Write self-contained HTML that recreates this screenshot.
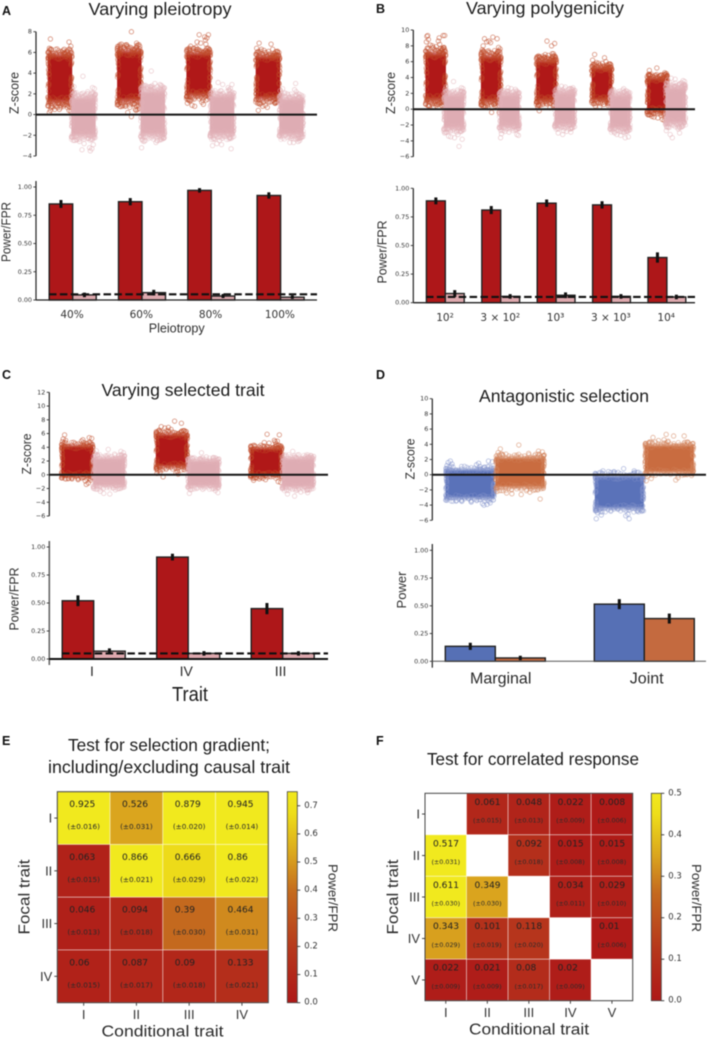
<!DOCTYPE html>
<html lang="en">
<head>
<meta charset="utf-8">
<title>Selection test power figure</title>
<style>
html,body{margin:0;padding:0;background:#fff;width:707px;height:1039px;overflow:hidden}
svg{display:block;filter:blur(0.4px)}
text{fill:#222}
.title{font-family:"Liberation Sans",sans-serif;font-size:17.5px;fill:#1c1c1c}
.letter{font-family:"Liberation Sans",sans-serif;font-size:12.5px;font-weight:bold;fill:#111}
.axis-title{font-family:"Liberation Sans",sans-serif;font-size:13px;fill:#2e2e2e}
.big-title{font-family:"Liberation Sans",sans-serif;font-size:15.5px;fill:#2a2a2a}
.tick{font-family:"DejaVu Sans",sans-serif;font-size:6.4px;fill:#333}
.cat{font-family:"DejaVu Sans",sans-serif;font-size:10.5px;fill:#333}
.cat-roman{font-family:"Liberation Sans",sans-serif;font-size:14px;fill:#2a2a2a}
.cat-large{font-family:"Liberation Sans",sans-serif;font-size:16px;fill:#2a2a2a}
.hm-tick{font-family:"Liberation Sans",sans-serif;font-size:13px;fill:#333}
.cb-tick{font-family:"DejaVu Sans",sans-serif;font-size:8.5px;fill:#333}
</style>
</head>
<body>
<svg id="figure" xmlns="http://www.w3.org/2000/svg" width="707" height="1039" viewBox="0 0 707 1039">
  <defs id="defs"></defs>
  <text class="letter" x="2" y="15">A</text>
  <text class="letter" x="376" y="13">B</text>
  <text class="letter" x="2" y="379">C</text>
  <text class="letter" x="376" y="379">D</text>
  <text class="letter" x="2" y="745">E</text>
  <text class="letter" x="376" y="745">F</text>

  <text class="title" x="160" y="15" text-anchor="middle" textLength="143" lengthAdjust="spacingAndGlyphs">Varying pleiotropy</text>
  <text class="title" x="545" y="14" text-anchor="middle" textLength="158" lengthAdjust="spacingAndGlyphs">Varying polygenicity</text>
  <text class="title" x="183" y="396" text-anchor="middle" textLength="163" lengthAdjust="spacingAndGlyphs">Varying selected trait</text>
  <text class="title" x="564" y="402" text-anchor="middle" textLength="170" lengthAdjust="spacingAndGlyphs">Antagonistic selection</text>
  <text class="title" x="169" y="751" text-anchor="middle" textLength="202" lengthAdjust="spacingAndGlyphs">Test for selection gradient;</text>
  <text class="title" x="169" y="773" text-anchor="middle" textLength="242" lengthAdjust="spacingAndGlyphs">including/excluding causal trait</text>
  <text class="title" x="533" y="765" text-anchor="middle" textLength="212" lengthAdjust="spacingAndGlyphs">Test for correlated response</text>

  <g id="panel-a"></g>
  <g id="panel-b"></g>
  <g id="panel-c"></g>
  <g id="panel-d"></g>
  <g id="panel-e"></g>
  <g id="panel-f"></g>

  <text class="axis-title" transform="translate(14 93) rotate(-90)" text-anchor="middle" dominant-baseline="central" textLength="42" lengthAdjust="spacingAndGlyphs">Z-score</text>
  <text class="axis-title" transform="translate(6 232) rotate(-90)" text-anchor="middle" dominant-baseline="central" textLength="60" lengthAdjust="spacingAndGlyphs">Power/FPR</text>
  <text class="axis-title" x="176.7" y="328" text-anchor="middle" dominant-baseline="central" textLength="56" lengthAdjust="spacingAndGlyphs">Pleiotropy</text>
  <text class="axis-title" transform="translate(390.7 93) rotate(-90)" text-anchor="middle" dominant-baseline="central" textLength="42" lengthAdjust="spacingAndGlyphs">Z-score</text>
  <text class="axis-title" transform="translate(382 252) rotate(-90)" text-anchor="middle" dominant-baseline="central" textLength="63" lengthAdjust="spacingAndGlyphs">Power/FPR</text>
  <text class="axis-title" transform="translate(26.7 454) rotate(-90)" text-anchor="middle" dominant-baseline="central" textLength="41" lengthAdjust="spacingAndGlyphs">Z-score</text>
  <text class="axis-title" transform="translate(14 599) rotate(-90)" text-anchor="middle" dominant-baseline="central" textLength="63" lengthAdjust="spacingAndGlyphs">Power/FPR</text>
  <text class="title" x="190" y="701" text-anchor="middle" textLength="36" lengthAdjust="spacingAndGlyphs" style="font-size:20px">Trait</text>
  <text class="axis-title" transform="translate(410 459) rotate(-90)" text-anchor="middle" dominant-baseline="central" textLength="41" lengthAdjust="spacingAndGlyphs">Z-score</text>
  <text class="axis-title" transform="translate(401.7 590) rotate(-90)" text-anchor="middle" dominant-baseline="central" textLength="37" lengthAdjust="spacingAndGlyphs">Power</text>

  <text class="big-title" x="162.5" y="1032" text-anchor="middle" dominant-baseline="central" textLength="122" lengthAdjust="spacingAndGlyphs">Conditional trait</text>
  <text class="big-title" transform="translate(25 897) rotate(-90)" text-anchor="middle" dominant-baseline="central" textLength="75" lengthAdjust="spacingAndGlyphs">Focal trait</text>
  <text class="axis-title" transform="translate(333 898) rotate(90)" text-anchor="middle" dominant-baseline="central" textLength="68" lengthAdjust="spacingAndGlyphs">Power/FPR</text>
  <text class="big-title" x="529" y="1030" text-anchor="middle" dominant-baseline="central" textLength="120" lengthAdjust="spacingAndGlyphs">Conditional trait</text>
  <text class="big-title" transform="translate(393.3 897) rotate(-90)" text-anchor="middle" dominant-baseline="central" textLength="75" lengthAdjust="spacingAndGlyphs">Focal trait</text>
  <text class="axis-title" transform="translate(696.7 898) rotate(90)" text-anchor="middle" dominant-baseline="central" textLength="68" lengthAdjust="spacingAndGlyphs">Power/FPR</text>
</svg>
<script>
/* ---------- Shared tick labels ---------- */
const powerTicks = [0, 0.25, 0.5, 0.75, 1];
const zTicksA = [-4, -2, 0, 2, 4, 6, 8];
const zTicksB = [-6, -4, -2, 0, 2, 4, 6, 8, 10];
const zTicksC = [-6, -4, -2, 0, 2, 4, 6, 8, 10, 12];
const zTicksD = [-6, -4, -2, 0, 2, 4, 6, 8, 10];
const fprThreshold = 0.05;
const jitterOffsets = [-0.82, 0.41, -0.13, 0.77, -0.56, 0.18, 0.93, -0.34, 0.62, -0.91, 0.05, -0.68, 0.36, 0.84, -0.22, -0.75, 0.52, -0.45, 0.27, 0.71, -0.05, -0.96, 0.58];
const depthOffsets = [0.12, 0.67, 0.34, 0.91, 0.05, 0.48, 0.79, 0.23, 0.58, 0.96, 0.17, 0.41, 0.73, 0.29, 0.86, 0.02, 0.53, 0.38, 0.64];

/* ---------- Panel A ---------- */
const categoriesA = ['40%', '60%', '80%', '100%'];
const powerA = [0.85, 0.87, 0.97, 0.925];
const powerErrA = [0.035, 0.032, 0.02, 0.028];
const fprA = [0.045, 0.065, 0.035, 0.025];
const fprErrA = [0.02, 0.025, 0.018, 0.015];
const selLowA = [0.8, 0.9, 1.5, 1.2];
const selHighA = [6.2, 6.6, 6.3, 6.0];
const neuLowA = [-2.4, -2.4, -2.3, -2.3];
const neuHighA = [2.0, 2.7, 2.2, 1.9];
const selExtremesA = [
  [7.3, 7.0, 6.6, 6.4, 6.3, 6.3, 6.2, 6.1, 6.0, 5.9, 5.8, 5.8, 5.6, 5.6, 5.5, 1.2, 1.1, 1.0, 0.9, 0.8, 0.7, 0.5, 0.5, 0.4, 0.4, 0.3, 0.2],
  [8.0, 6.9, 6.8, 6.7, 6.5, 6.4, 6.3, 6.2, 6.1, 6.0, 5.9, 5.8, 5.7, 5.6, 1.0, 0.9, 0.8, 0.7, 0.6, 0.5, 0.5, 0.4, 0.2, -0.2],
  [7.7, 7.7, 7.5, 7.4, 7.2, 7.0, 6.9, 6.8, 6.6, 6.5, 6.4, 6.3, 6.2, 6.1, 1.7, 1.5, 1.4, 1.3, 1.2, 1.1, 1.0, 0.9, 0.8],
  [6.9, 6.8, 6.4, 6.3, 6.3, 6.2, 6.1, 6.0, 5.9, 5.8, 5.7, 5.6, 1.2, 1.1, 1.0, 0.9, 0.8, 0.7, 0.4]
];
const neuExtremesA = [
  [3.7, 2.7, 2.6, 2.5, 2.3, 2.2, 2.1, 2.0, -2.2, -2.3, -2.4, -2.6, -2.8, -2.9, -3.2, -3.3, -3.5, -3.4],
  [4.2, 3.0, 2.9, 2.8, 2.7, 2.7, 2.6, 2.5, -2.2, -2.3, -2.4, -2.5, -2.6, -2.7, -3.2],
  [3.1, 2.9, 2.9, 2.6, 2.5, 2.4, 2.3, -2.1, -2.2, -2.3, -2.5, -2.8, -2.9, -3.0, -3.3],
  [3.0, 2.5, 2.4, 2.3, 2.2, 2.1, 2.0, -2.1, -2.2, -2.3, -2.5, -2.6, -2.7, -2.7]
];

/* ---------- Panel B ---------- */
const categoriesB = ['10²', '3 × 10²', '10³', '3 × 10³', '10⁴'];
const powerB = [0.89, 0.81, 0.87, 0.855, 0.395];
const powerErrB = [0.03, 0.035, 0.032, 0.032, 0.045];
const fprB = [0.08, 0.055, 0.065, 0.055, 0.05];
const fprErrB = [0.03, 0.02, 0.025, 0.02, 0.02];
const selLowB = [0.6, 0.5, 0.6, 0.8, -0.6];
const selHighB = [7.6, 7.2, 6.6, 5.6, 4.3];
const neuLowB = [-2.8, -2.6, -2.4, -2.8, -2.2];
const neuHighB = [2.2, 2.2, 2.5, 2.2, 3.2];
const selExtremesB = [
  [9.3, 9.3, 9.3, 9.2, 9.0, 8.8, 8.6, 8.5, 8.2, 8.1, 8.0, 7.9, 7.8, 7.7, 7.6, 0.8, 0.7, 0.6, 0.5, 0.4, 0.3],
  [9.1, 8.9, 8.9, 8.6, 8.5, 8.4, 8.0, 7.8, 7.6, 7.5, 7.4, 7.3, 0.6, 0.5, 0.4, 0.3, 0.2, -0.4, -0.4],
  [8.6, 8.3, 8.0, 7.0, 7.0, 6.9, 6.8, 6.7, 6.6, 6.5, 6.4, 0.7, 0.6, 0.5, 0.4, 0.3, 0.2, -0.2],
  [6.9, 6.5, 6.2, 6.0, 5.9, 5.8, 5.8, 5.7, 5.6, 0.9, 0.8, 0.7, 0.6, 0.5, 0.4, 0.3],
  [5.2, 4.9, 4.6, 4.5, 4.4, 4.3, 4.3, 4.2, -0.7, -0.8, -0.9, -1.0, -1.1, -1.2, -1.3, -1.4]
];
const neuExtremesB = [
  [3.5, 2.8, 2.7, 2.6, 2.5, 2.4, 2.3, -2.9, -3.0, -3.2, -3.4, -3.5, -3.6, -3.8, -4.7],
  [2.7, 2.6, 2.5, 2.4, 2.3, -2.8, -2.9, -3.1, -3.2, -3.3, -3.6],
  [2.9, 2.8, 2.7, 2.6, 2.5, -2.5, -2.7, -2.8, -2.9, -3.0, -3.2],
  [2.6, 2.5, 2.4, 2.3, -2.9, -3.0, -3.2, -3.3, -3.5, -3.6],
  [3.9, 3.8, 3.7, 3.6, 3.5, 3.3, -2.2, -2.3, -2.5, -2.7, -3.0, -3.2, -3.6]
];

/* ---------- Panel C ---------- */
const categoriesC = ['I', 'IV', 'III'];
const powerC = [0.52, 0.91, 0.45];
const powerErrC = [0.048, 0.03, 0.05];
const fprC = [0.07, 0.05, 0.05];
const fprErrC = [0.025, 0.02, 0.02];
const selLowC = [-0.5, 0.8, -0.4];
const selHighC = [4.6, 6.3, 4.2];
const neuLowC = [-2.0, -2.0, -2.2];
const neuHighC = [2.8, 2.4, 2.8];
const selExtremesC = [
  [5.8, 5.4, 5.3, 5.2, 5.1, 5.0, 4.9, 4.8, 4.7, -0.5, -0.6, -0.7, -0.8, -0.9, -1.2, -1.4],
  [7.8, 7.5, 7.0, 6.9, 6.8, 6.6, 6.5, 6.4, 6.3, 0.6, 0.5, 0.4, 0.3, 0.2, 0.1, -0.3],
  [5.9, 5.8, 5.0, 4.9, 4.8, 4.7, 4.6, 4.5, -0.4, -0.5, -0.6, -0.7, -0.8, -1.0, -1.1]
];
const neuExtremesC = [
  [3.7, 3.5, 3.4, 3.2, 3.1, 3.0, 2.9, -1.9, -2.0, -2.2, -2.4, -2.7, -2.8],
  [3.2, 2.6, 2.5, 2.4, 2.3, -2.0, -2.1, -2.2, -2.3, -2.6, -2.7],
  [3.4, 2.9, 2.8, 2.7, 2.6, -2.2, -2.3, -2.5, -2.6, -2.8, -3.1]
];

/* ---------- Panel D ---------- */
const categoriesD = ['Marginal', 'Joint'];
const powerBlueD = [0.135, 0.515];
const powerBlueErrD = [0.032, 0.045];
const powerOrangeD = [0.03, 0.385];
const powerOrangeErrD = [0.02, 0.045];
const blueLowD = [-3.4, -4.8];
const blueHighD = [1.0, 0.2];
const orangeLowD = [-2.0, 0.0];
const orangeHighD = [2.6, 4.2];
const blueExtremesD = [
  [1.8, 1.8, 1.7, 1.6, 1.5, 1.4, 1.3, 1.2, 1.1, -3.4, -3.5, -3.6, -3.7, -3.8, -3.9, -4.0],
  [0.8, 0.5, 0.5, 0.4, 0.4, 0.3, -4.6, -4.7, -4.8, -5.0, -5.2, -5.3, -5.4, -5.8, -5.8]
];
const orangeExtremesD = [
  [3.9, 3.4, 3.1, 3.0, 2.9, 2.8, 2.7, -2.1, -2.2, -2.3, -2.4, -2.5, -2.6, -3.2],
  [5.3, 5.1, 5.1, 4.9, 4.6, 4.5, 4.4, 4.3, 4.3, -0.1, -0.2, -0.4, -0.5, -0.7, -0.8]
];

/* ---------- Panels E and F ---------- */
const traitsE = ['I', 'II', 'III', 'IV'];
const valuesE = [
  [0.925, 0.526, 0.879, 0.945],
  [0.063, 0.866, 0.666, 0.86],
  [0.046, 0.094, 0.39, 0.464],
  [0.06, 0.087, 0.09, 0.133]
];
const errorsE = [
  ['0.016', '0.031', '0.020', '0.014'],
  ['0.015', '0.021', '0.029', '0.022'],
  ['0.013', '0.018', '0.030', '0.031'],
  ['0.015', '0.017', '0.018', '0.021']
];
const colorbarTicksE = [0, 0.1, 0.2, 0.3, 0.4, 0.5, 0.6, 0.7];
const traitsF = ['I', 'II', 'III', 'IV', 'V'];
const valuesF = [
  [null, 0.061, 0.048, 0.022, 0.008],
  [0.517, null, 0.092, 0.015, 0.015],
  [0.611, 0.349, null, 0.034, 0.029],
  [0.343, 0.101, 0.118, null, 0.01],
  [0.022, 0.021, 0.08, 0.02, null]
];
const errorsF = [
  [null, '0.015', '0.013', '0.009', '0.006'],
  ['0.031', null, '0.018', '0.008', '0.008'],
  ['0.030', '0.030', null, '0.011', '0.010'],
  ['0.029', '0.019', '0.020', null, '0.006'],
  ['0.009', '0.009', '0.017', '0.009', null]
];
const colorbarTicksF = [0, 0.1, 0.2, 0.3, 0.4, 0.5];

/* ---------- Helpers ---------- */
const NS = 'http://www.w3.org/2000/svg';
function mk(tag, attrs, parent, text) {
  const el = document.createElementNS(NS, tag);
  for (const k in attrs) el.setAttribute(k, attrs[k]);
  if (text !== undefined) el.textContent = text;
  parent.appendChild(el);
  return el;
}
function linear(d0, d1, r0, r1) {
  return function (v) { return r0 + (v - d0) / (d1 - d0) * (r1 - r0); };
}
const defs = document.getElementById('defs');
function fadeGradient(id, color) {
  const g = mk('linearGradient', { id: id, x1: 0, y1: 0, x2: 0, y2: 1 }, defs);
  [[0, 0.05], [0.05, 0.35], [0.13, 1], [0.87, 1], [0.95, 0.35], [1, 0.05]].forEach(function (s) {
    mk('stop', { offset: s[0], 'stop-color': color, 'stop-opacity': s[1] }, g);
  });
}
fadeGradient('fade-red', '#b01818');
fadeGradient('fade-pink', '#deacb3');
fadeGradient('fade-blue', '#5a72b9');
fadeGradient('fade-orange', '#c96c40');

const cmapStops = [[0, [174, 24, 24]], [0.25, [182, 55, 28]], [0.52, [196, 105, 30]], [0.7, [218, 165, 30]], [0.9, [238, 222, 25]], [1, [241, 233, 30]]];
function cmap(t) {
  t = Math.max(0, Math.min(1, t));
  for (let i = 1; i < cmapStops.length; i++) {
    if (t <= cmapStops[i][0]) {
      const a = cmapStops[i - 1], b = cmapStops[i];
      const f = (t - a[0]) / (b[0] - a[0]);
      const c = a[1].map(function (v, j) { return Math.round(v + (b[1][j] - v) * f); });
      return 'rgb(' + c.join(',') + ')';
    }
  }
  return 'rgb(241,233,30)';
}
const cbGrad = mk('linearGradient', { id: 'colorbar-gradient', x1: 0, y1: 1, x2: 0, y2: 0 }, defs);
cmapStops.forEach(function (s) {
  mk('stop', { offset: s[0], 'stop-color': 'rgb(' + s[1].join(',') + ')' }, cbGrad);
});

function formatZ(t) { return t < 0 ? '\u2212' + Math.abs(t) : String(t); }

function drawYAxis(g, scale, ticks, fmt, xAxis, top, bottom, spineColor, spineWidth, prefix) {
  const spine = mk('line', { x1: xAxis, x2: xAxis, y1: top, y2: bottom, stroke: spineColor, 'stroke-width': spineWidth }, g);
  
  
  ticks.forEach(function (t) {
    const y = scale(t);
    const mark = mk('line', { x1: xAxis - 2.6, x2: xAxis, y1: y, y2: y, stroke: '#333', 'stroke-width': 0.9 }, g);
    
    
    const lab = mk('text', { x: xAxis - 4, y: y, 'text-anchor': 'end', 'dominant-baseline': 'central', class: 'tick' }, g, fmt(t));
    
    
  });
}

/* Cloud = a fading density band between low and high, a ring texture along its
   edges (positions follow low/high), and the individually read extreme points. */
function drawCloud(g, cx, halfWidth, zScale, low, high, extremes, fill, ring, seed, name, ringOpacity) {
  const top = zScale(high), bot = zScale(low), span = high - low;
  const band = mk('rect', { x: cx - halfWidth + 1.5, y: top, width: halfWidth * 2 - 3, height: bot - top, fill: 'url(#' + fill + ')' }, g);
  
  
  const nj = jitterOffsets.length, nd = depthOffsets.length;
  for (let i = 0; i < 150; i++) {
    const j = jitterOffsets[(i + seed * 5) % nj];
    const d = depthOffsets[(i + seed) % nd];
    let px, pz;
    if (i % 3 === 0) {
      pz = high + span * (0.03 - 0.2 * d);
      px = cx + j * (halfWidth - 1);
    } else if (i % 3 === 1) {
      pz = low + span * (0.2 * d - 0.03);
      px = cx + j * (halfWidth - 1);
    } else {
      pz = low + span * ((d + i / 149) % 1);
      px = cx + (i % 2 === 0 ? -1 : 1) * (halfWidth - 1.6 - 1.4 * Math.abs(j));
    }
    const tex = mk('circle', { cx: px, cy: zScale(pz), r: 2.1, fill: 'none', stroke: ring, 'stroke-width': 0.8, 'stroke-opacity': ringOpacity }, g);
    
    
  }
  extremes.forEach(function (z, i) {
    const j = jitterOffsets[(i * 3 + seed * 5) % nj];
    const pt = mk('circle', { cx: cx + j * (halfWidth - 2), cy: zScale(z), r: 2.2, fill: 'none', stroke: ring, 'stroke-width': 0.9, 'stroke-opacity': 0.55 }, g);
    
    
  });
}

function drawScatter(g, c) {
  const z = linear(c.zMin, c.zMax, c.zBottom, c.zTop);
  c.first.low.forEach(function (_, i) {
    drawCloud(g, c.firstX + i * c.step, c.halfWidth, z, c.first.low[i], c.first.high[i], c.first.extremes[i], c.first.fill, c.first.ring, i, c.prefix + '-' + c.first.name, c.first.ringOpacity);
  });
  c.second.low.forEach(function (_, i) {
    drawCloud(g, c.secondX + i * c.step, c.halfWidth, z, c.second.low[i], c.second.high[i], c.second.extremes[i], c.second.fill, c.second.ring, i + 4, c.prefix + '-' + c.second.name, c.second.ringOpacity);
  });
  drawYAxis(g, z, c.ticks, formatZ, c.axisX, c.zTop, c.zBottom, c.spineColor || '#222', c.spineWidth || 1.2, c.prefix + '-zscore');
  const zero = mk('line', { x1: c.axisX, x2: c.rightX, y1: z(0), y2: z(0), stroke: '#151515', 'stroke-width': 2 }, g);
  
  
}

function drawBars(g, c) {
  const y = linear(0, 1, c.y0, c.y1);
  c.series.forEach(function (s, si) {
    s.values.forEach(function (v, i) {
      const cx = c.center + i * c.step;
      const x = si === 0 ? cx - c.barW : cx;
      const bar = mk('rect', { x: x, y: y(v), width: c.barW, height: c.y0 - y(v), fill: s.color, stroke: '#222', 'stroke-width': 1.4 }, g);
      
      
    });
  });
  c.series.forEach(function (s, si) {
    s.values.forEach(function (v, i) {
      const cx = c.center + i * c.step;
      const x = si === 0 ? cx - c.barW : cx;
      const err = mk('line', { x1: x + c.barW / 2, x2: x + c.barW / 2, y1: y(v - s.errors[i]), y2: y(v + s.errors[i]), stroke: '#111', 'stroke-width': 3 }, g);
      
      
    });
  });
  drawYAxis(g, y, powerTicks, function (t) { return t.toFixed(2); }, c.axisX, c.top, c.bottom, c.spineColor || '#222', c.spineWidth || 1.2, c.prefix + '-power');
  const base = mk('line', { x1: c.axisX, x2: c.rightX, y1: c.y0, y2: c.y0, stroke: c.baseColor || '#222', 'stroke-width': c.baseWidth || 1.3 }, g);
  
  
  if (c.threshold) {
    const dash = mk('line', { x1: c.dashStart, x2: c.rightX, y1: y(fprThreshold), y2: y(fprThreshold), stroke: '#111', 'stroke-width': 2.1, 'stroke-dasharray': '7.5 3.4' }, g);
    
    
  }
  c.categories.forEach(function (label, i) {
    const t = mk('text', { x: c.labelX + i * c.labelStep, y: c.labelY, 'text-anchor': 'middle', 'dominant-baseline': 'central', class: c.labelClass }, g, label);
    
    
  });
}

function drawHeatmap(g, c) {
  const n = c.traits.length;
  const cellW = (c.x1 - c.x0) / n, cellH = (c.y1 - c.y0) / n;
  c.values.forEach(function (row, r) {
    row.forEach(function (v, col) {
      const x = c.x0 + col * cellW, y = c.y0 + r * cellH;
      const cell = mk('rect', { x: x, y: y, width: cellW, height: cellH, fill: v === null ? '#ffffff' : cmap(v / c.vmax), stroke: 'rgba(255,255,255,0.6)', 'stroke-width': 0.7 }, g);
      
      
      if (v === null) return;
      const vt = mk('text', { x: x + c.textDx, y: y + c.valueDy, 'dominant-baseline': 'central', style: 'font-family:"DejaVu Sans",sans-serif;font-size:9.1px;fill:#222' }, g, String(v));
      
      
      const et = mk('text', { x: x + cellW / 2, y: y + c.errDy, 'text-anchor': 'middle', 'dominant-baseline': 'central', style: 'font-family:"DejaVu Sans",sans-serif;font-size:' + c.errSize + 'px;fill:#2a2a2a' }, g, '(\u00b1' + c.errors[r][col] + ')');
      
      
    });
  });
  const frame = mk('rect', { x: c.x0, y: c.y0, width: c.x1 - c.x0, height: c.y1 - c.y0, fill: 'none', stroke: '#444', 'stroke-width': 1 }, g);
  
  
  c.traits.forEach(function (label, i) {
    const cx = c.x0 + (i + 0.5) * cellW, cy = c.y0 + (i + 0.5) * cellH;
    const xm = mk('line', { x1: cx, x2: cx, y1: c.y1, y2: c.y1 + 3, stroke: '#333', 'stroke-width': 0.9 }, g);
    
    
    const ym = mk('line', { x1: c.x0 - 3, x2: c.x0, y1: cy, y2: cy, stroke: '#333', 'stroke-width': 0.9 }, g);
    
    
    const xl = mk('text', { x: cx, y: c.y1 + 12, 'text-anchor': 'middle', 'dominant-baseline': 'central', class: 'hm-tick' }, g, label);
    
    
    const yl = mk('text', { x: c.x0 - 5, y: cy, 'text-anchor': 'end', 'dominant-baseline': 'central', class: 'hm-tick' }, g, label);
    
    
  });
  const bar = mk('rect', { x: c.cbX, y: c.y0, width: 10, height: c.y1 - c.y0, fill: 'url(#colorbar-gradient)', stroke: '#444', 'stroke-width': 0.8 }, g);
  
  
  const cb = linear(0, c.vmax, c.y1, c.y0);
  c.cbTicks.forEach(function (t) {
    const m = mk('line', { x1: c.cbX + 10, x2: c.cbX + 13, y1: cb(t), y2: cb(t), stroke: '#333', 'stroke-width': 0.9 }, g);
    
    
    const l = mk('text', { x: c.cbX + 17, y: cb(t), 'dominant-baseline': 'central', class: 'cb-tick' }, g, t.toFixed(1));
    
    
  });
}

/* ---------- Draw panels ---------- */
const gA = document.getElementById('panel-a');
drawScatter(gA, {
  prefix: 'a', zMin: -4, zMax: 8, zBottom: 156, zTop: 31.7, ticks: zTicksA, axisX: 36, rightX: 317,
  firstX: 60, secondX: 83.5, step: 69.3, halfWidth: 13.7,
  first: { name: 'selected', low: selLowA, high: selHighA, extremes: selExtremesA, fill: 'fade-red', ring: '#c04a28', ringOpacity: 0.5 },
  second: { name: 'neutral', low: neuLowA, high: neuHighA, extremes: neuExtremesA, fill: 'fade-pink', ring: '#e2b2b8', ringOpacity: 0.45 }
});
drawBars(gA, {
  prefix: 'a', y0: 300, y1: 187, top: 181, bottom: 300, axisX: 36, rightX: 317, center: 72.7, step: 69.3, barW: 23.5,
  threshold: true, dashStart: 49, categories: categoriesA, labelX: 72, labelStep: 69.3, labelY: 315, labelClass: 'cat',
  series: [
    { name: 'power', values: powerA, errors: powerErrA, color: '#ae1719' },
    { name: 'fpr', values: fprA, errors: fprErrA, color: '#dea9ae' }
  ]
});

const gB = document.getElementById('panel-b');
drawScatter(gB, {
  prefix: 'b', zMin: -6, zMax: 10, zBottom: 156.7, zTop: 30, ticks: zTicksB, axisX: 413.3, rightX: 695,
  firstX: 435.7, secondX: 454, step: 55.4, halfWidth: 11.7,
  first: { name: 'selected', low: selLowB, high: selHighB, extremes: selExtremesB, fill: 'fade-red', ring: '#c04a28', ringOpacity: 0.5 },
  second: { name: 'neutral', low: neuLowB, high: neuHighB, extremes: neuExtremesB, fill: 'fade-pink', ring: '#e2b2b8', ringOpacity: 0.45 }
});
drawBars(gB, {
  prefix: 'b', y0: 302.7, y1: 188.3, top: 188.3, bottom: 302.7, axisX: 413.3, rightX: 695, center: 445.3, step: 55.4, barW: 18.9,
  threshold: true, dashStart: 426, categories: categoriesB, labelX: 445, labelStep: 55.3, labelY: 318, labelClass: 'cat',
  series: [
    { name: 'power', values: powerB, errors: powerErrB, color: '#ae1719' },
    { name: 'fpr', values: fprB, errors: fprErrB, color: '#dea9ae' }
  ]
});

const gC = document.getElementById('panel-c');
drawScatter(gC, {
  prefix: 'c', zMin: -6, zMax: 12, zBottom: 516, zTop: 392.3, ticks: zTicksC, axisX: 49.3, rightX: 328,
  firstX: 77.3, secondX: 109, step: 94.5, halfWidth: 17.5,
  first: { name: 'selected', low: selLowC, high: selHighC, extremes: selExtremesC, fill: 'fade-red', ring: '#c04a28', ringOpacity: 0.5 },
  second: { name: 'neutral', low: neuLowC, high: neuHighC, extremes: neuExtremesC, fill: 'fade-pink', ring: '#e2b2b8', ringOpacity: 0.45 }
});
drawBars(gC, {
  prefix: 'c', y0: 659, y1: 547, top: 541, bottom: 665, axisX: 49.3, rightX: 328, center: 93.7, step: 94.5, barW: 31.5,
  threshold: true, dashStart: 62, categories: categoriesC, labelX: 92, labelStep: 94.3, labelY: 671, labelClass: 'cat-roman',
  spineColor: '#666', spineWidth: 1.6, baseColor: '#111', baseWidth: 2,
  series: [
    { name: 'power', values: powerC, errors: powerErrC, color: '#ae1719' },
    { name: 'fpr', values: fprC, errors: fprErrC, color: '#dea9ae' }
  ]
});

const gD = document.getElementById('panel-d');
drawScatter(gD, {
  prefix: 'd', zMin: -6, zMax: 10, zBottom: 520.3, zTop: 398.7, ticks: zTicksD, axisX: 432.3, rightX: 706,
  firstX: 470, secondX: 520, step: 149.3, halfWidth: 26,
  first: { name: 'blue', low: blueLowD, high: blueHighD, extremes: blueExtremesD, fill: 'fade-blue', ring: '#7f90ca', ringOpacity: 0.5 },
  second: { name: 'orange', low: orangeLowD, high: orangeHighD, extremes: orangeExtremesD, fill: 'fade-orange', ring: '#d2825a', ringOpacity: 0.5 }
});
drawBars(gD, {
  prefix: 'd', y0: 661.3, y1: 550.3, top: 544, bottom: 667.7, axisX: 432.3, rightX: 706, center: 495.3, step: 149, barW: 50,
  threshold: false, categories: categoriesD, labelX: 500.7, labelStep: 146, labelY: 679, labelClass: 'cat-large',
  baseColor: '#555', baseWidth: 1,
  series: [
    { name: 'blue', values: powerBlueD, errors: powerBlueErrD, color: '#5670b5' },
    { name: 'orange', values: powerOrangeD, errors: powerOrangeErrD, color: '#c46a3f' }
  ]
});

drawHeatmap(document.getElementById('panel-e'), {
  prefix: 'e', traits: traitsE, values: valuesE, errors: errorsE, vmax: 0.75, cbTicks: colorbarTicksE,
  x0: 57.3, x1: 268.3, y0: 791.7, y1: 1002.7, cbX: 287.3, textDx: 12, valueDy: 13.3, errDy: 35, errSize: 7.3
});
drawHeatmap(document.getElementById('panel-f'), {
  prefix: 'f', traits: traitsF, values: valuesF, errors: errorsF, vmax: 0.5, cbTicks: colorbarTicksF,
  x0: 425, x1: 632.7, y0: 793.3, y1: 1000.7, cbX: 651.3, textDx: 8, valueDy: 9.5, errDy: 27.3, errSize: 6.4
});
</script>
</body>
</html>
